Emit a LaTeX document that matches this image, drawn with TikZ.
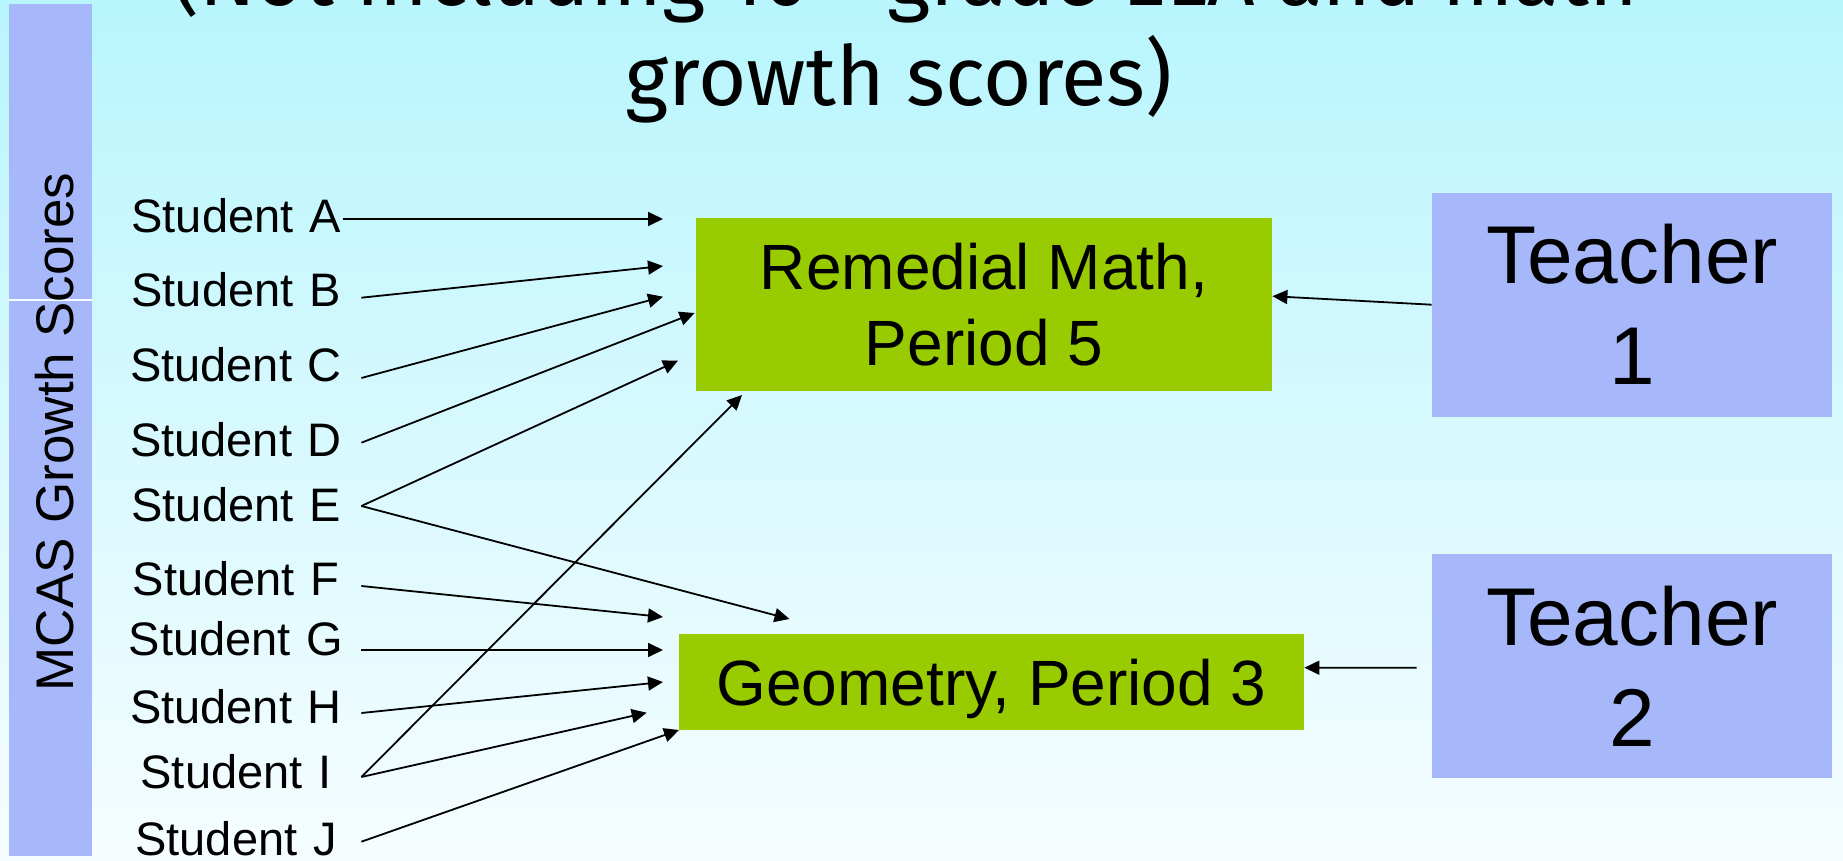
\documentclass[tikz,border=0pt]{standalone}
\usepackage{fontspec}
\setmainfont{Liberation Sans}
\newfontfamily\titlefont{Fira Sans}
\usetikzlibrary{arrows.meta,calc}
\definecolor{bgtop}{RGB}{184,245,253}
\definecolor{bgbot}{RGB}{246,253,255}
\definecolor{boxgreen}{RGB}{153,204,0}
\definecolor{boxblue}{RGB}{166,184,250}
\begin{document}
\begin{tikzpicture}[x=0.5pt,y=-0.5pt,
  stud/.style={inner sep=0pt, text width=125pt, align=center, anchor=base,
    text height=11pt, text depth=0pt, font=\fontsize{23.5}{28}\selectfont},
  arr/.style={line width=0.9pt, -{Triangle[length=7.5pt,width=7pt]}},
  classbox/.style={fill=boxgreen, inner sep=0pt, align=center,
    font=\fontsize{32}{38}\selectfont},
  teachbox/.style={fill=boxblue, inner sep=0pt, minimum width=200pt,
    minimum height=112pt, align=center, font=\fontsize{41}{50.5}\selectfont},
  titletext/.style={anchor=base, inner sep=0pt, font=\titlefont\fontsize{41.5}{50}\selectfont}]
\useasboundingbox (0,0) rectangle (1843,861);
\shade[top color=bgtop, bottom color=bgbot] (0,0) rectangle (1843,861);

% title (first line cut by the top edge)
\node[titletext] (title1) at (905,6) {(Not including 10\textsuperscript{th} grade ELA and math};
\node[titletext] (title2) at (899,106) {growth scores)};

% left bar
\fill[boxblue] (9,4) rectangle (92,856);
\draw[bgbot, line width=0.6pt] (9,300) -- (92,300);
\node[rotate=90, anchor=base, inner sep=0pt, font=\fontsize{26.5}{30}\selectfont] (side) at (73,432) {MCAS Growth Scores};

% students
\node[stud] (sA) at (236,233) {Student A};
\node[stud] (sB) at (236,306.7) {Student B};
\node[stud] (sC) at (236,381.7) {Student C};
\node[stud] (sD) at (236,456) {Student D};
\node[stud] (sE) at (236,521.7) {Student E};
\node[stud] (sF) at (236,595) {Student F};
\node[stud] (sG) at (236,655) {Student G};
\node[stud] (sH) at (236,723) {Student H};
\node[stud] (sI) at (236,788) {Student I};
\node[stud] (sJ) at (236,855) {Student J};

% classes
\node[classbox, minimum width=288pt, minimum height=86.5pt] (rem) at (984,304.2) {Remedial Math,\\Period 5};
\node[classbox, minimum width=312.5pt, minimum height=48pt, text depth=0pt] (geo) at (991.5,682) {Geometry, Period 3};

% teachers
\node[teachbox] (t1) at (1632,304.7) {Teacher\\1};
\node[teachbox] (t2) at (1632,666) {Teacher\\2};

% arrow tips
\coordinate (tA) at (663,219);
\coordinate (tB) at (663,266);
\coordinate (tC) at (663,296.7);
\coordinate (tD) at (694.6,313);
\coordinate (tE1) at (678,360.7);
\coordinate (tE2) at (789.5,619);
\coordinate (tI1) at (742,395);
\coordinate (tF) at (663,617);
\coordinate (tG) at (663,650);
\coordinate (tH) at (663,682);
\coordinate (tI2) at (646.7,712.7);
\coordinate (tJ) at (679,730);

% connectors
\draw[arr] ($(sA.east)+(-18,-3)$) -- (tA);
\draw[arr] ($(sB.east)+(0,2)$) -- (tB);
\draw[arr] ($(sC.east)+(0,7.3)$) -- (tC);
\draw[arr] ($(sD.east)+(0,-2.3)$) -- (tD);
\draw[arr] ($(sE.east)+(0,-4.7)$) -- (tE1);
\draw[arr] ($(sE.east)+(0,-4.7)$) -- (tE2);
\draw[arr] ($(sF.east)+(0,2)$) -- (tF);
\draw[arr] ($(sG.east)+(0,6)$) -- (tG);
\draw[arr] ($(sH.east)+(0,1)$) -- (tH);
\draw[arr] (sI.east) -- (tI1);
\draw[arr] (sI.east) -- (tI2);
\draw[arr] ($(sJ.east)+(0,-2.3)$) -- (tJ);
\draw[arr] (t1.west) -- ($(rem.east)+(0,-8)$);
\draw[arr] ($(t2.west)+(-15,1.7)$) -- ($(geo.east)+(0,-14.3)$);
\end{tikzpicture}
\end{document}
